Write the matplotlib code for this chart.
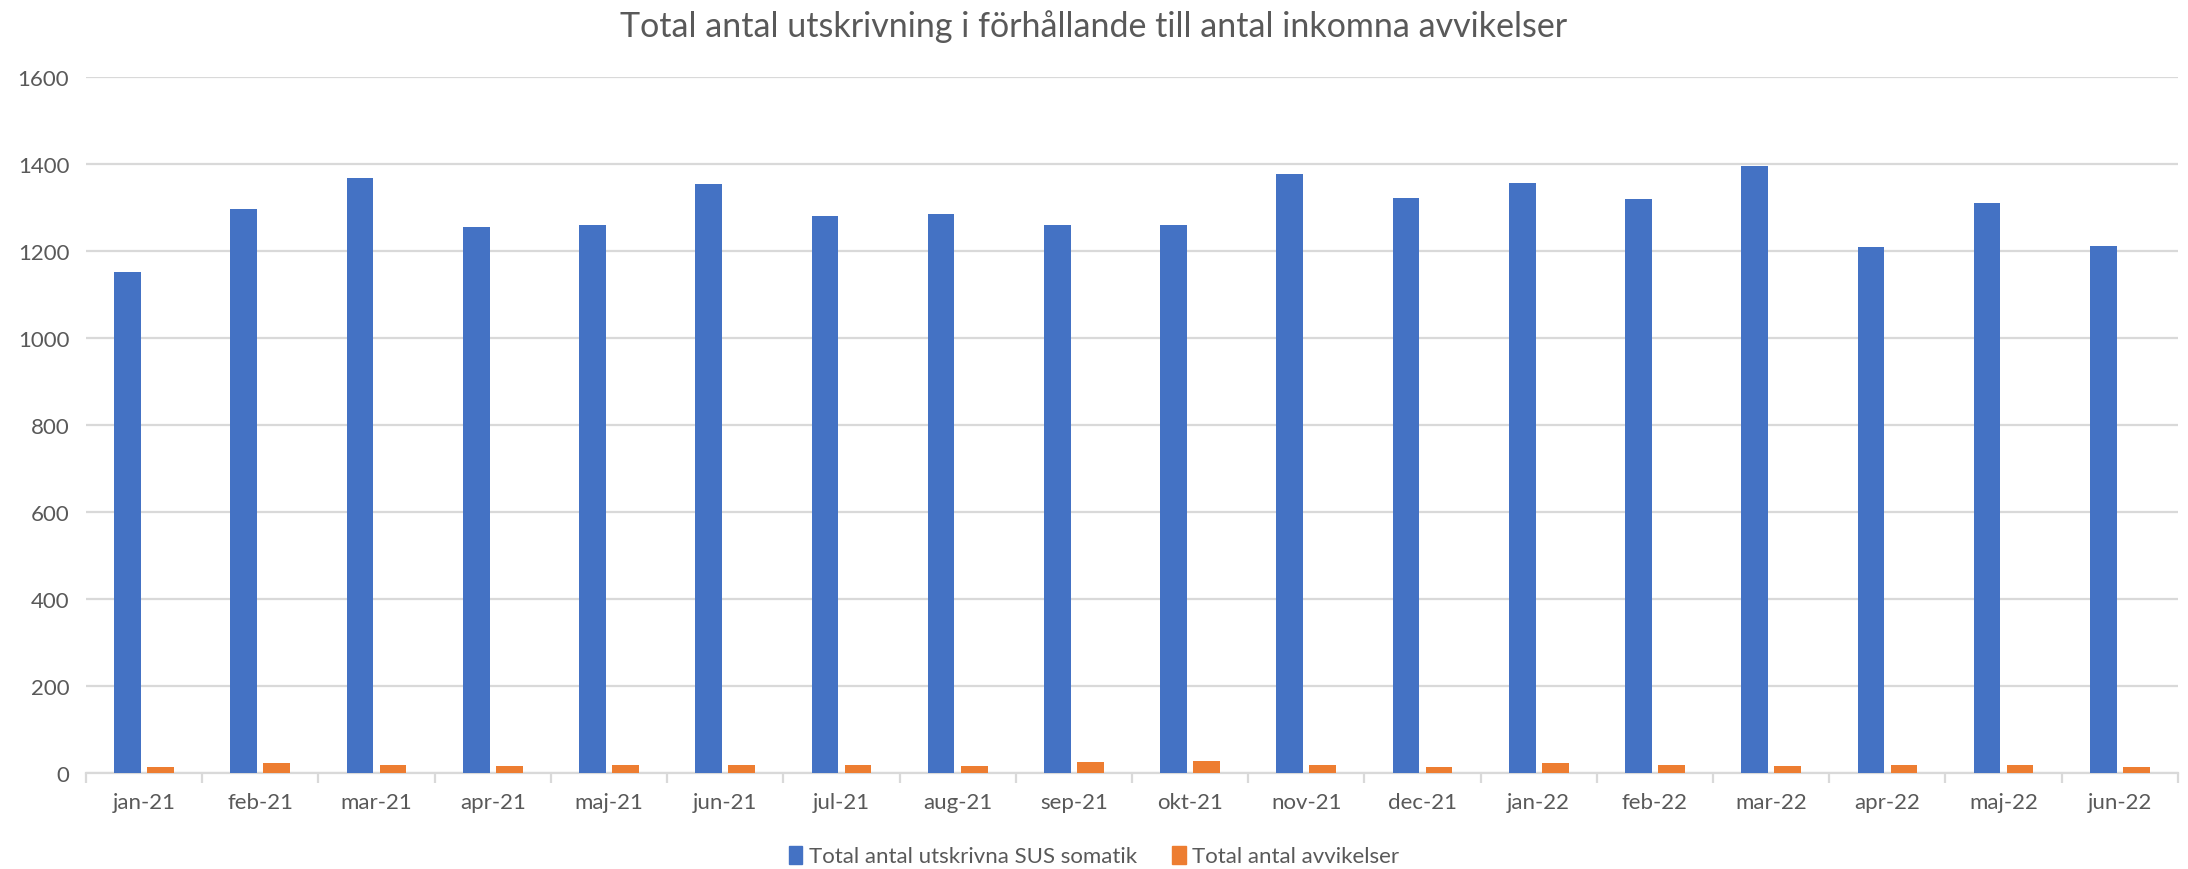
import numpy as np
import matplotlib
matplotlib.use("Agg")
import matplotlib.pyplot as plt
from matplotlib.patches import Patch

# data
months = ["jan-21", "feb-21", "mar-21", "apr-21", "maj-21", "jun-21", "jul-21", "aug-21", "sep-21",
          "okt-21", "nov-21", "dec-21", "jan-22", "feb-22", "mar-22", "apr-22", "maj-22", "jun-22"]
utskrivna = [1152, 1296, 1367, 1255, 1261, 1355, 1281, 1284, 1259,
             1261, 1378, 1323, 1356, 1319, 1395, 1210, 1310, 1212]
avvikelser = [15, 22, 18, 16, 19, 19, 19, 16, 25,
              27, 18, 13, 23, 18, 16, 19, 18, 15]

BLUE = "#4472C4"
ORANGE = "#ED7D31"
TEXT = "#595959"
GRID = "#D9D9D9"

plt.rcParams["font.family"] = ["Lato", "DejaVu Sans"]

fig = plt.figure(figsize=(21.88, 8.70), dpi=100)
ax = fig.add_axes([0.0393, 0.1103, 0.9561, 0.80])

x = np.arange(len(months))
w = 0.23
ax.bar(x - 0.142, utskrivna, width=w, color=BLUE, zorder=3)
ax.bar(x + 0.142, avvikelser, width=w, color=ORANGE, zorder=3)

ax.set_xlim(-0.5, len(months) - 0.5)
ax.set_ylim(0, 1600)
ax.set_yticks(range(0, 1601, 200))
ax.yaxis.grid(True, color=GRID, linewidth=1.6, zorder=0)
ax.tick_params(axis="y", length=0, labelsize=16, labelcolor=TEXT, pad=12)

ax.set_xticks(x)
ax.set_xticklabels(months)
ax.set_xticks(np.arange(-0.5, len(months), 1), minor=True)
ax.tick_params(axis="x", which="major", length=0, labelsize=16, labelcolor=TEXT, pad=14)
ax.tick_params(axis="x", which="minor", length=7, width=1.6, color=GRID)

for side in ["top", "right", "left"]:
    ax.spines[side].set_visible(False)
ax.spines["bottom"].set_color(GRID)
ax.spines["bottom"].set_linewidth(1.6)

fig.suptitle("Total antal utskrivning i förhållande till antal inkomna avvikelser",
             y=0.988, fontsize=24.5, color=TEXT)

handles = [Patch(color=BLUE, label="Total antal utskrivna SUS somatik"),
           Patch(color=ORANGE, label="Total antal avvikelser")]
fig.legend(handles=handles, loc="center", bbox_to_anchor=(0.5, 0.015), ncol=2, frameon=False,
           fontsize=16, labelcolor=TEXT, handlelength=0.6, handleheight=0.9,
           handletextpad=0.3, columnspacing=1.6)

fig.savefig("out.png", dpi=100)
